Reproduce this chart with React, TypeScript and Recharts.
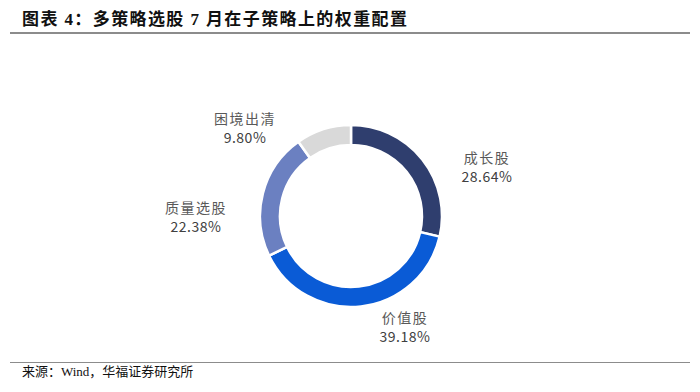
import React from 'react';
import { PieChart, Pie, Cell } from 'recharts';

const categories = ['成长股', '价值股', '质量选股', '困境出清'];
const weights = [28.64, 39.18, 22.38, 9.8];
const valueLabels = ['28.64%', '39.18%', '22.38%', '9.80%'];

const COLORS = ['#2F3E6E', '#0A5BD6', '#6B80C1', '#D9D9D9'];
// label centre offsets from the pie centre (style only)
const LABEL_OFFSETS: Record<string, [number, number]> = {
  成长股: [136, -50],
  价值股: [54, 110],
  质量选股: [-155, 0],
  困境出清: [-106, -89],
};

const data = categories.map((name, i) => ({ name, value: weights[i], label: valueLabels[i] }));

const labelFont = '"Noto Sans CJK SC", "Noto Sans", sans-serif';

const renderLabel = (props: any) => {
  const { cx, cy, index } = props;
  const d = data[index];
  const off = LABEL_OFFSETS[d.name];
  const x = cx + off[0];
  const y = cy + off[1];
  return (
    <g>
      <text x={x} y={y - 9.5} textAnchor="middle" dominantBaseline="central" fill="#595959" fontSize={14} fontFamily={labelFont} letterSpacing={1.5}>
        {d.name}
      </text>
      <text x={x} y={y + 9.5} textAnchor="middle" dominantBaseline="central" fill="#404040" fontSize={14} fontFamily={labelFont} letterSpacing={0.5}>
        {d.label}
      </text>
    </g>
  );
};

export default function App() {
  return (
    <div style={{ position: 'absolute', left: 0, top: 0, width: 700, height: 392, background: '#fff', overflow: 'hidden' }}>
      <div
        style={{
          position: 'absolute',
          left: 22,
          top: 9,
          fontFamily: '"Liberation Serif", "Noto Sans CJK SC", serif',
          fontWeight: 700,
          fontSize: 17,
          letterSpacing: 1.4,
          color: '#111',
          whiteSpace: 'nowrap',
          lineHeight: '22px',
        }}
      >
        图表 4：多策略选股 7 月在子策略上的权重配置
      </div>
      <div style={{ position: 'absolute', left: 10, top: 31.5, width: 680, height: 2, background: '#8C8C8C' }} />
      <div style={{ position: 'absolute', left: 0, top: 0 }}>
        <PieChart width={700} height={392} margin={{ top: 0, right: 0, bottom: 0, left: 0 }}>
          <Pie
            data={data}
            dataKey="value"
            nameKey="name"
            cx={351}
            cy={216}
            outerRadius={91}
            innerRadius={71}
            startAngle={90}
            endAngle={-270}
            stroke="#FFFFFF"
            strokeWidth={2.5}
            label={renderLabel}
            labelLine={false}
            isAnimationActive={false}
          >
            {data.map((d, i) => (
              <Cell key={d.name} fill={COLORS[i]} />
            ))}
          </Pie>
        </PieChart>
      </div>
      <div style={{ position: 'absolute', left: 10, top: 361.5, width: 680, height: 1, background: '#8C8C8C' }} />
      <div
        style={{
          position: 'absolute',
          left: 22,
          top: 363,
          fontFamily: '"Liberation Serif", "Noto Sans CJK SC", serif',
          fontSize: 13,
          color: '#111',
          whiteSpace: 'nowrap',
          lineHeight: '17px',
        }}
      >
        来源：Wind，华福证券研究所
      </div>
    </div>
  );
}
